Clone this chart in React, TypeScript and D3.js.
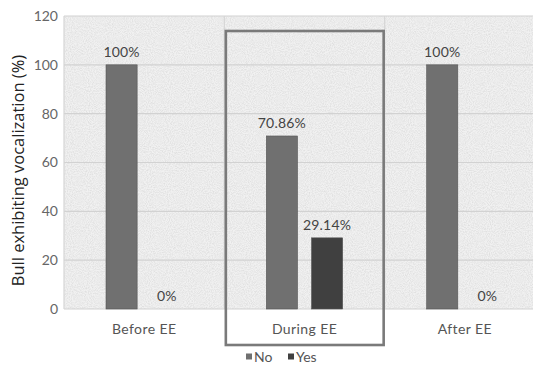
import React from "react";
import * as d3 from "d3";

const categories = ["Before EE", "During EE", "After EE"];
const seriesNames = ["No", "Yes"];
const noValues = [100, 70.86, 100];
const yesValues = [0, 29.14, 0];
const yTicks = [0, 20, 40, 60, 80, 100, 120];

const W = 533;
const H = 366;
const left = 64;
const right = 545;
const top = 16;
const bottom = 309;

const colors: Record<string, string> = { No: "#707070", Yes: "#404040" };
const FONT = "'Lato', 'Open Sans', sans-serif";

export default function App() {
  const x = d3.scaleBand<string>().domain(categories).range([left, right]).padding(0);
  const y = d3.scaleLinear().domain([0, 120]).range([bottom, top]);
  const bw = x.bandwidth();
  const sub = d3
    .scaleBand<string>()
    .domain(seriesNames)
    .range([bw * 0.262, bw * 0.738])
    .paddingInner(0.311)
    .paddingOuter(0);

  const rows = categories.map((c, i) => ({ c, No: noValues[i], Yes: yesValues[i] }));
  const highlight = "During EE";
  const hx0 = x(highlight)! + 1.5;
  const hx1 = x(highlight)! + bw - 1;

  return (
    <svg
      width={W}
      height={H}
      style={{ position: "absolute", left: 0, top: 0, background: "#fff" }}
    >
      <defs>
        <filter id="grain" x="0" y="0" width="100%" height="100%">
          <feTurbulence type="fractalNoise" baseFrequency="0.95" numOctaves="2" seed="3" />
          <feColorMatrix
            type="matrix"
            values="0 0 0 0 0  0 0 0 0 0  0 0 0 0 0  0 0 0 -1.1 0.75"
          />
        </filter>
        <clipPath id="plotClip">
          <rect x={left} y={top} width={right - left} height={bottom - top} />
        </clipPath>
      </defs>

      {/* plot background with fine grain */}
      <rect x={left} y={top} width={right - left} height={bottom - top} fill="#f1f1f1" />
      <rect
        x={left}
        y={top}
        width={right - left}
        height={bottom - top}
        filter="url(#grain)"
        opacity={0.12}
        clipPath="url(#plotClip)"
      />

      {/* gridlines */}
      {yTicks.map((t) => (
        <line
          key={"h" + t}
          x1={left}
          x2={right}
          y1={y(t)}
          y2={y(t)}
          stroke="#d2d2d2"
          strokeWidth={1.2}
        />
      ))}
      {categories.map((c) => (
        <line
          key={"v" + c}
          x1={x(c)!}
          x2={x(c)!}
          y1={top}
          y2={bottom}
          stroke="#d6d6d6"
          strokeWidth={1.2}
        />
      ))}

      {/* y tick labels */}
      {yTicks.map((t) => (
        <text
          key={"t" + t}
          x={58}
          y={y(t)}
          dy="0.35em"
          textAnchor="end"
          fontFamily={FONT}
          fontSize={14}
          fill="#666"
        >
          {t}
        </text>
      ))}

      {/* y axis title */}
      <text
        transform={`translate(24,${(top + bottom) / 2 + 8}) rotate(-90)`}
        textAnchor="middle"
        fontFamily="'Open Sans', 'Noto Sans', sans-serif"
        fontSize={16.5}
        fill="#222"
      >
        Bull exhibiting vocalization (%)
      </text>

      {/* bars and value labels */}
      {rows.map((r) =>
        seriesNames.map((s) => {
          const v = (r as any)[s] as number;
          const bx = x(r.c)! + sub(s)!;
          return (
            <g key={r.c + s}>
              <rect
                x={bx}
                y={y(v)}
                width={sub.bandwidth()}
                height={y(0) - y(v)}
                fill={colors[s]}
                stroke="#555"
                strokeWidth={0.6}
              />
              <text
                x={bx + sub.bandwidth() / 2}
                y={y(v) - 8}
                textAnchor="middle"
                fontFamily={FONT}
                fontSize={14}
                letterSpacing={0.2}
                fill="#444"
              >
                {`${v}%`}
              </text>
            </g>
          );
        })
      )}

      {/* category labels */}
      {categories.map((c) => (
        <text
          key={"c" + c}
          x={x(c)! + bw / 2}
          y={334}
          textAnchor="middle"
          fontFamily={FONT}
          fontSize={14}
          letterSpacing={0.4}
          fill="#555"
        >
          {c}
        </text>
      ))}

      {/* highlight frame */}
      <rect
        x={hx0}
        y={31}
        width={hx1 - hx0}
        height={345 - 31}
        fill="none"
        stroke="#7a7a7a"
        strokeWidth={2.6}
      />

      {/* legend */}
      {seriesNames.map((s, i) => {
        const lx = 246 + i * 42;
        return (
          <g key={"l" + s}>
            <rect x={lx} y={353.5} width={6} height={6} fill={colors[s]} />
            <text x={lx + 8} y={362} fontFamily={FONT} fontSize={14} fill="#555">
              {s}
            </text>
          </g>
        );
      })}
    </svg>
  );
}
